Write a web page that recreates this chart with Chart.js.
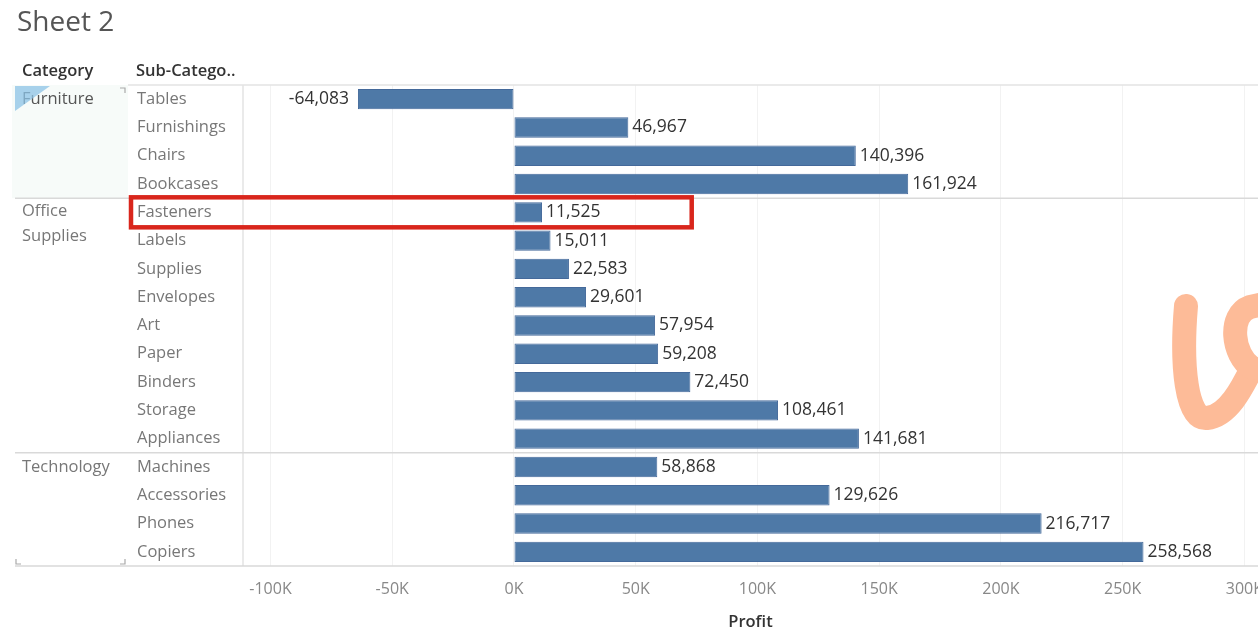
<!DOCTYPE html>
<html>
<head>
<meta charset="utf-8">
<script src="https://cdn.jsdelivr.net/npm/chart.js@4/dist/chart.umd.min.js"></script>
<style>
  html, body { margin: 0; padding: 0; background: #fff; }
  #wrap { width: 1258px; height: 632px; position: relative; }
</style>
</head>
<body>
<div id="wrap"><canvas id="profit-chart" width="1258" height="632"></canvas></div>
<script>
// data
var categories = ["Furniture", "Office Supplies", "Technology"];
var categorySizes = [4, 9, 4];
var subCategories = ["Tables", "Furnishings", "Chairs", "Bookcases",
	"Fasteners", "Labels", "Supplies", "Envelopes", "Art", "Paper", "Binders", "Storage", "Appliances",
	"Machines", "Accessories", "Phones", "Copiers"];
var profit = [-64083, 46967, 140396, 161924,
	11525, 15011, 22583, 29601, 57954, 59208, 72450, 108461, 141681,
	58868, 129626, 216717, 258568];
var tickValues = [-100000, -50000, 0, 50000, 100000, 150000, 200000, 250000, 300000];
var highlighted = "Fasteners";

var FONT = "'Open Sans', 'Noto Sans', sans-serif";

function fmt(v) {
	return v.toLocaleString("en-US");
}

// Tableau-ish decorations: title, headers, category column, separators, labels
var sheetPlugin = {
	id: "sheet",
	beforeDraw: function (chart) {
		var ctx = chart.ctx;
		var area = chart.chartArea;
		var y = chart.scales.y;
		ctx.save();
		// selected furniture cell tint
		var furnBottom = y.getPixelForValue(categorySizes[0] - 0.5);
		ctx.fillStyle = "#f7fbf9";
		ctx.fillRect(12, area.top, 116, furnBottom - area.top);
		ctx.restore();
	},
	afterDatasetsDraw: function (chart) {
		var ctx = chart.ctx;
		var area = chart.chartArea;
		var x = chart.scales.x;
		var y = chart.scales.y;
		ctx.save();

		// title
		ctx.fillStyle = "#555";
		ctx.font = "28px " + FONT;
		ctx.textBaseline = "middle";
		ctx.textAlign = "left";
		ctx.fillText("Sheet 2", 17, 23);

		// headers
		ctx.fillStyle = "#333";
		ctx.font = "600 16.5px " + FONT;
		ctx.fillText("Category", 22, 71);
		ctx.fillText("Sub-Catego..", 136, 71);

		// lines
		ctx.strokeStyle = "#e4e4e4";
		ctx.lineWidth = 1.5;
		ctx.beginPath();
		ctx.moveTo(128, area.top); ctx.lineTo(area.right, area.top);
		ctx.moveTo(area.left, area.top); ctx.lineTo(area.left, area.bottom);
		ctx.stroke();
		ctx.strokeStyle = "#d9d9d9";
		ctx.beginPath();
		var idx = 0;
		for (var c = 0; c < categories.length; c++) {
			idx += categorySizes[c];
			var yy = idx < subCategories.length ? y.getPixelForValue(idx - 0.5) : area.bottom;
			ctx.moveTo(15, yy); ctx.lineTo(area.right, yy);
		}
		ctx.stroke();

		// category labels
		ctx.font = "16.5px " + FONT;
		ctx.textBaseline = "middle";
		idx = 0;
		for (var c = 0; c < categories.length; c++) {
			var yTop = y.getPixelForValue(idx);
			ctx.fillStyle = c === 0 ? "#555" : "#777";
			if (ctx.measureText(categories[c]).width > 100) {
				var parts = categories[c].split(" ");
				ctx.fillText(parts[0], 22, yTop - 1);
				ctx.fillText(parts.slice(1).join(" "), 22, yTop + 24);
			} else {
				ctx.fillText(categories[c], 22, yTop);
			}
			idx += categorySizes[c];
		}

		// selection marks
		ctx.fillStyle = "rgba(140,195,230,0.75)";
		ctx.beginPath();
		ctx.moveTo(15, area.top + 1); ctx.lineTo(50, area.top + 1); ctx.lineTo(15, area.top + 26);
		ctx.closePath();
		ctx.fill();
		ctx.strokeStyle = "#aaa";
		ctx.lineWidth = 1.2;
		ctx.beginPath();
		ctx.moveTo(120, area.top + 3); ctx.lineTo(125, area.top + 3); ctx.lineTo(125, area.top + 8);
		ctx.moveTo(16, area.bottom - 7); ctx.lineTo(16, area.bottom - 2); ctx.lineTo(21, area.bottom - 2);
		ctx.moveTo(125, area.bottom - 7); ctx.lineTo(125, area.bottom - 2); ctx.lineTo(120, area.bottom - 2);
		ctx.stroke();

		// value labels
		ctx.font = "17.5px " + FONT;
		ctx.fillStyle = "#333";
		var meta = chart.getDatasetMeta(0);
		meta.data.forEach(function (bar, i) {
			var v = profit[i];
			if (v < 0) {
				ctx.textAlign = "right";
				ctx.fillText(fmt(v), bar.x - 9, bar.y);
			} else {
				ctx.textAlign = "left";
				ctx.fillText(fmt(v), bar.x + 4, bar.y);
			}
		});

		// red highlight box
		var hi = subCategories.indexOf(highlighted);
		var hy = y.getPixelForValue(hi);
		ctx.strokeStyle = "#d9261c";
		ctx.lineWidth = 4.5;
		ctx.strokeRect(131, hy - 15, x.getPixelForValue(73000) - 131, 30);

		// watermark
		ctx.strokeStyle = "#fdbb98";
		ctx.lineWidth = 24;
		ctx.lineCap = "round";
		ctx.beginPath();
		ctx.moveTo(1186, 306);
		ctx.bezierCurveTo(1181, 365, 1186, 420, 1207, 418);
		ctx.bezierCurveTo(1228, 416, 1242, 388, 1252, 368);
		ctx.stroke();
		ctx.beginPath();
		ctx.moveTo(1252, 368);
		ctx.bezierCurveTo(1232, 355, 1228, 315, 1250, 307);
		ctx.lineTo(1264, 304);
		ctx.stroke();

		ctx.restore();
	}
};

var chartData = {
	labels: subCategories,
	datasets: [{
		label: "Profit",
		data: profit,
		backgroundColor: "#4e79a7",
		borderColor: "#44699a",
		borderWidth: 1,
		borderSkipped: false,
		categoryPercentage: 1,
		barPercentage: 0.72
	}]
};

var chartOptions = {
	responsive: false,
	animation: false,
	indexAxis: "y",
	layout: {
		padding: { left: 137, top: 85, right: 0, bottom: 0 }
	},
	plugins: {
		legend: { display: false },
		tooltip: { enabled: false }
	},
	scales: {
		x: {
			min: -111300,
			max: 305600,
			afterBuildTicks: function (scale) {
				scale.ticks = tickValues.map(function (v) { return { value: v }; });
			},
			afterFit: function (scale) {
				scale.height = 66;
				scale.paddingLeft = 0;
				scale.paddingRight = 0;
			},
			grid: { color: "#f2f2f2", drawTicks: false, drawOnChartArea: true },
			border: { display: false },
			ticks: {
				padding: 14,
				color: "#888",
				font: { family: FONT, size: 16 },
				maxRotation: 0,
				autoSkip: false,
				callback: function (v) { return (v / 1000) + "K"; }
			},
			title: {
				display: true,
				text: "Profit",
				color: "#333",
				font: { family: FONT, size: 16.5, weight: "600" },
				padding: { top: 0, bottom: 0 }
			}
		},
		y: {
			afterFit: function (scale) {
				scale.width = 106;
			},
			grid: { display: false },
			border: { display: false },
			ticks: {
				crossAlign: "far",
				color: "#777",
				font: { family: FONT, size: 16.5 },
				autoSkip: false
			}
		}
	}
};

var chart = new Chart(document.getElementById("profit-chart"), {
	type: "bar",
	data: chartData,
	options: chartOptions,
	plugins: [sheetPlugin]
});
</script>
</body>
</html>
